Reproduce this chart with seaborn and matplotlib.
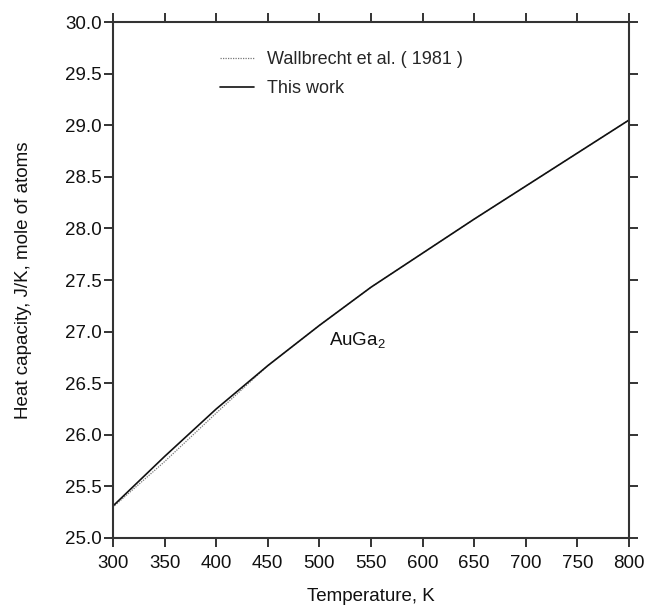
import matplotlib
matplotlib.use("Agg")
import matplotlib.pyplot as plt
import seaborn as sns
import pandas as pd

# Data
temperature = [300, 350, 400, 450, 500, 550, 600, 650, 700, 750, 800]
cp_this_work = [25.31, 25.79, 26.25, 26.67, 27.06, 27.43, 27.76, 28.09, 28.41, 28.73, 29.05]
cp_wallbrecht = [25.30, 25.74, 26.21, 26.67, 27.06, 27.43, 27.76, 28.09, 28.41, 28.73, 29.05]
series_names = ["Wallbrecht et al. ( 1981 )", "This work"]
x_ticks = [300, 350, 400, 450, 500, 550, 600, 650, 700, 750, 800]
y_ticks = [25.0, 25.5, 26.0, 26.5, 27.0, 27.5, 28.0, 28.5, 29.0, 29.5, 30.0]

sns.set_theme(style="ticks")
plt.rcParams["font.family"] = ["Liberation Sans", "DejaVu Sans"]
plt.rcParams["mathtext.fontset"] = "custom"
plt.rcParams["mathtext.rm"] = "Liberation Sans"

df = pd.DataFrame({
    "T": temperature * 2,
    "Cp": cp_wallbrecht + cp_this_work,
    "series": [series_names[0]] * len(temperature) + [series_names[1]] * len(temperature),
})

fig = plt.figure(figsize=(6.49, 6.07), dpi=100)
ax = fig.add_axes([0.1741, 0.1137, 0.795, 0.850])

sns.lineplot(data=df[df.series == series_names[0]], x="T", y="Cp", ax=ax,
             color="#777777", linestyle=(0, (1, 1)), linewidth=0.9, label=series_names[0])
sns.lineplot(data=df[df.series == series_names[1]], x="T", y="Cp", ax=ax,
             color="#111111", linestyle="-", linewidth=1.2, label=series_names[1])

ax.set_xlim(300, 800)
ax.set_ylim(25.0, 30.0)
ax.set_xticks(x_ticks)
ax.set_yticks(y_ticks)
ax.set_yticklabels([f"{v:.1f}" for v in y_ticks])
ax.tick_params(axis="both", which="both", direction="out", length=6.5, width=1.4,
               labelsize=13.5, color="#333333", labelcolor="#111111",
               top=True, right=True, labeltop=False, labelright=False)
ax.tick_params(axis="x", pad=5.5)
ax.tick_params(axis="y", pad=1.5)
for s in ax.spines.values():
    s.set_linewidth(1.5)
    s.set_color("#333333")

ax.set_xlabel("Temperature, K", fontsize=13.5, color="#111111", labelpad=12)
ax.set_ylabel("Heat capacity, J/K, mole of atoms", fontsize=13.5, color="#111111", labelpad=24)

ax.text(509, 26.86, r"AuGa$_\mathregular{2}$", fontsize=13.5, color="#111111",
        ha="left", va="baseline")

leg = ax.legend(loc="upper left", bbox_to_anchor=(0.207, 0.944), frameon=False,
                fontsize=13, handlelength=1.88, handletextpad=0.72,
                labelspacing=0.66, borderpad=0, borderaxespad=0)

fig.savefig("out.png", dpi=100)
